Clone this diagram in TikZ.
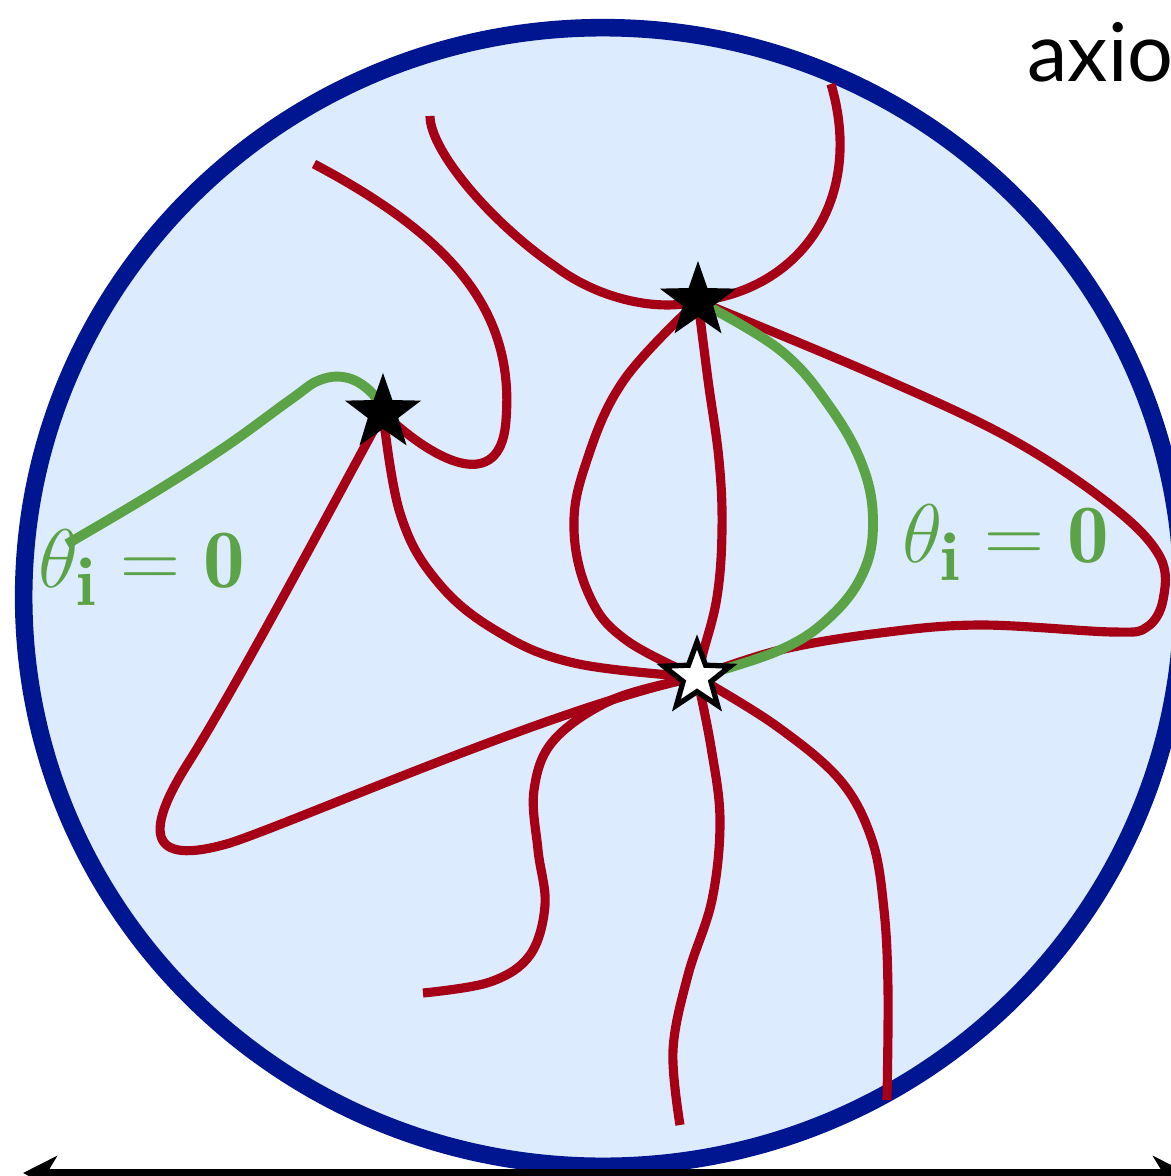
\documentclass[tikz,border=0pt]{standalone}
\usepackage{fontspec}
\newfontfamily\labelfont{Lato}
\usetikzlibrary{shapes.geometric,arrows.meta}
\definecolor{linered}{RGB}{166,0,22}
\definecolor{zerogreen}{RGB}{92,163,72}
\definecolor{rimblue}{RGB}{0,22,145}
\definecolor{diskblue}{RGB}{220,235,253}

\begin{document}
\begin{tikzpicture}[x=0.01cm, y=-0.01cm,
    fieldline/.style={line width=2.6pt, linered, line join=round},
    zeroline/.style={line width=2.8pt, zerogreen, line join=round},
    blackstar/.style={star, star points=5, star point ratio=2.5, fill=black, inner sep=0pt, minimum size=0.8cm},
    whitestar/.style={star, star points=5, star point ratio=2.4, fill=white, draw=black, line width=1.5pt, inner sep=0pt, minimum size=0.7cm},
    thetalabel/.style={zerogreen, anchor=base west, inner sep=0pt, font=\fontsize{24.88}{30}\selectfont}]
    \useasboundingbox (0,0) rectangle (1171,1176);

    % ===== disk =====
    \draw[rimblue, fill=diskblue, line width=5pt] (603,597) ellipse [x radius=5.79cm, y radius=5.69cm];

    % ===== stars and free ends =====
    \coordinate (s1) at (698,301);
    \coordinate (s2) at (383,413);
    \coordinate (w) at (697,677);
    \coordinate (endA) at (430,116);
    \coordinate (endB) at (831,84);
    \coordinate (endC) at (314,164);
    \coordinate (endH) at (67,544);
    \coordinate (endK) at (423,993);
    \coordinate (endL) at (680,1125);
    \coordinate (endM) at (887,1100);

    % ===== red lines around the upper star =====
    \draw[fieldline] (endA) .. controls (430,150) and (490,222) .. (556,267) .. controls (600,300) and (660,312) .. (s1);
    \draw[fieldline] (endB) .. controls (865,200) and (800,290) .. (s1);
    \draw[fieldline] plot[smooth, tension=0.65] coordinates {(s1) (708,380) (719,460) (722,530) (717,597) (703,653) (w)};
    \draw[fieldline] plot[smooth, tension=0.65] coordinates {(s1) (624,380) (586,463) (574,530) (590,597) (626,640) (w)};
    \draw[fieldline] plot[smooth, tension=0.6] coordinates {(s1) (880,377) (1013,440) (1113,507) (1160,557) (1163,600) (1147,627) (1113,632) (980,625) (880,633) (780,650) (w)};

    % ===== red lines around the left star =====
    \draw[fieldline] (endC) .. controls (450,236) and (515,310) .. (506,420) .. controls (502,485) and (450,475) .. (s2);
    \draw[fieldline] plot[smooth, tension=0.65] coordinates {(s2) (400,513) (436,580) (495,630) (574,663) (w)};
    \draw[fieldline] (s2) .. controls (330,510) and (240,680) .. (190,760) .. controls (145,830) and (145,868) .. (230,843) .. controls (300,820) and (560,705) .. (w);

    % ===== red lines below the white star =====
    \draw[fieldline] plot[smooth, tension=0.6] coordinates {(w) (614,699) (554,740) (534,790) (538,850) (545,905) (530,955) (490,982) (endK)};
    \draw[fieldline] plot[smooth, tension=0.6] coordinates {(w) (711,747) (720,820) (712,900) (688,975) (673,1050) (endL)};
    \draw[fieldline] plot[smooth, tension=0.6] coordinates {(w) (775,725) (840,780) (872,840) (884,910) (888,990) (endM)};

    % ===== green lines =====
    \draw[zeroline] plot[smooth, tension=0.65] coordinates {(s1) (780,350) (830,407) (863,467) (873,523) (863,573) (830,617) (780,650) (w)};
    \draw[zeroline] plot[smooth, tension=0.65] coordinates {(s2) (372,393) (348,378) (320,380) (290,400) (225,447) (150,495) (endH)};

    % ===== stars on top =====
    \node[blackstar] (upperstar) at (s1) {};
    \node[blackstar] (leftstar) at (s2) {};
    \node[whitestar] (whitestar) at (w) {};

    % ===== labels =====
    \node[thetalabel] (leftzero) at (38,587) {\scalebox{0.95}{$\theta_{\mathbf{i}} = \mathbf{0}$}};
    \node[thetalabel] (rightzero) at (902,562) {\scalebox{0.95}{$\theta_{\mathbf{i}} = \mathbf{0}$}};
    \node[anchor=base west, inner sep=0pt, font=\labelfont\fontsize{23}{27}\selectfont] (axislabel) at (1027,82) {axio};

    % ===== axis arrow =====
    \coordinate (arrowleft) at (23,1173);
    \coordinate (arrowright) at (1187,1173);
    \draw[{Stealth[length=0.34cm, width=0.34cm, inset=0.1cm]}-{Stealth[length=0.34cm, width=0.34cm, inset=0.1cm]}, line width=2.4pt] (arrowleft) -- (arrowright);
\end{tikzpicture}
\end{document}
